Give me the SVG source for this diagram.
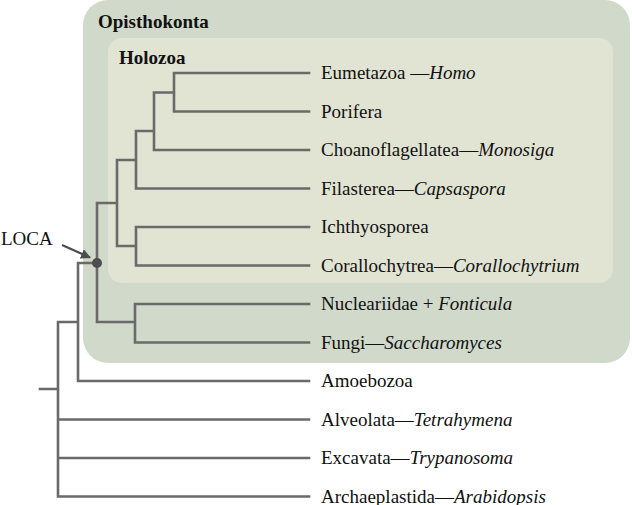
<svg xmlns="http://www.w3.org/2000/svg" width="632" height="505" viewBox="0 0 632 505">
<defs>
<style>
.t{font-family:"Liberation Serif","Times New Roman",serif;font-size:19px;fill:#111}
.b{font-weight:bold}
.i{font-style:italic}
.e{fill:none;stroke:#6a6a6a;stroke-width:2.6;stroke-linejoin:miter;stroke-linecap:square}
</style>
<marker id="ah" viewBox="0 0 10 10" refX="9" refY="5" markerWidth="4.5" markerHeight="4.5" orient="auto" markerUnits="strokeWidth"><path d="M0,0 L10,5 L0,10 z" fill="#4d4d4d"/></marker>
</defs>
<g id="opisthokonta">
<rect x="83" y="0" width="547" height="363" rx="25" fill="#d0d9ca"/>
<text class="t b" x="98" y="28">Opisthokonta</text>
</g>
<g id="holozoa">
<rect x="108" y="38" width="505" height="245" rx="14" fill="#e1e4d3"/>
<text class="t b" x="119" y="64">Holozoa</text>
</g>
<g id="connectors">
<path class="e" d="M309,73 H174 V111.5 H309 M174,92.5 H154 V150 H309 M154,131 H136 V188.5 H309 M136,160 H117 V246 M136,227 H309 M136,227 V265.5 H309 M117,246 H136 M117,203 H97 V322 M135,304 H309 M135,304 V342.5 H309 M97,322 H135 M97,263 H78 V381 H309 M78,322 H58 V496.5 H309 M40,389 H58 M58,419.5 H309 M58,458 H309"/>
<line x1="62" y1="245" x2="90" y2="257.5" stroke="#4d4d4d" stroke-width="2.2" marker-end="url(#ah)"/>
</g>
<g id="loca">
<circle cx="97" cy="263" r="5" fill="#4d4d4d"/>
<text class="t" x="1" y="245">LOCA</text>
</g>
<g id="eumetazoa"><text class="t" x="321" y="79">Eumetazoa —<tspan class="i">Homo</tspan></text></g>
<g id="porifera"><text class="t" x="321" y="117.5">Porifera</text></g>
<g id="choanoflagellatea"><text class="t" x="321" y="156">Choanoflagellatea—<tspan class="i">Monosiga</tspan></text></g>
<g id="filasterea"><text class="t" x="321" y="194.5">Filasterea—<tspan class="i">Capsaspora</tspan></text></g>
<g id="ichthyosporea"><text class="t" x="321" y="233">Ichthyosporea</text></g>
<g id="corallochytrea"><text class="t" x="321" y="271.5">Corallochytrea—<tspan class="i">Corallochytrium</tspan></text></g>
<g id="nucleariidae"><text class="t" x="321" y="310">Nucleariidae + <tspan class="i">Fonticula</tspan></text></g>
<g id="fungi"><text class="t" x="321" y="348.5">Fungi—<tspan class="i">Saccharomyces</tspan></text></g>
<g id="amoebozoa"><text class="t" x="321" y="387">Amoebozoa</text></g>
<g id="alveolata"><text class="t" x="321" y="425.5">Alveolata—<tspan class="i">Tetrahymena</tspan></text></g>
<g id="excavata"><text class="t" x="321" y="464">Excavata—<tspan class="i">Trypanosoma</tspan></text></g>
<g id="archaeplastida"><text class="t" x="321" y="502.5">Archaeplastida—<tspan class="i">Arabidopsis</tspan></text></g>
</svg>
